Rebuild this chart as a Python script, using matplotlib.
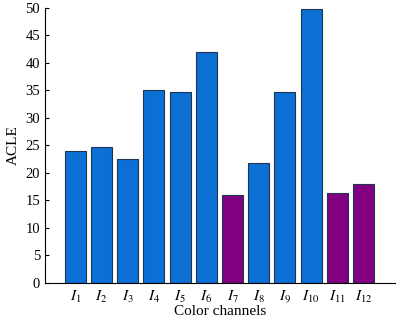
import matplotlib
matplotlib.use('Agg')
import matplotlib.pyplot as plt

channels = [r'$I_{%d}$' % i for i in range(1, 13)]
acle = [24.0, 24.8, 22.5, 35.0, 34.7, 42.0, 16.0, 21.8, 34.7, 49.8, 16.4, 17.9]
colors = ['#0b6fd4'] * 6 + ['#800080'] + ['#0b6fd4'] * 3 + ['#800080'] * 2

plt.rcParams['font.family'] = 'Liberation Serif'
plt.rcParams['mathtext.fontset'] = 'stix'

fig = plt.figure(figsize=(4.01, 3.2), dpi=100)
ax = fig.add_axes([0.112, 0.116, 0.873, 0.859])

x = list(range(len(acle)))
ax.bar(x, acle, width=0.8, color=colors, edgecolor='#1f3550', linewidth=0.8)

ax.set_xlim(-1.16, 12.2)
ax.set_ylim(0, 50)
ax.set_yticks(range(0, 51, 5))
ax.set_xticks(x)
ax.set_xticklabels(channels)
ax.tick_params(axis='y', direction='in', length=3, labelsize=10.5)
ax.tick_params(axis='x', length=0, labelsize=11, pad=4)
ax.spines['top'].set_visible(False)
ax.spines['right'].set_visible(False)
ax.set_ylabel('ACLE', fontsize=11, labelpad=4)
ax.set_xlabel('Color channels', fontsize=11, labelpad=0)

fig.savefig('out.png', dpi=100)
